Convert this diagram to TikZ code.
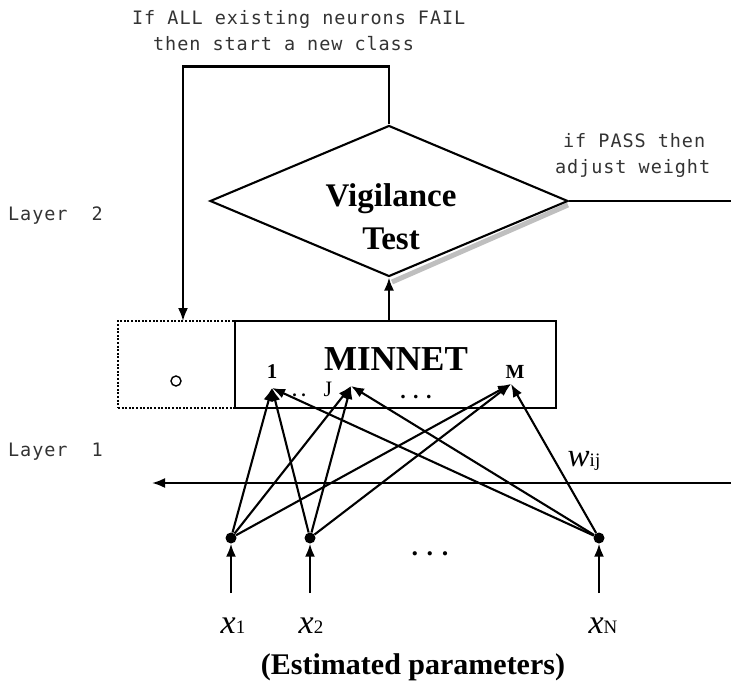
\documentclass[tikz,border=0pt]{standalone}
\usepackage{fontspec}
\setmainfont{Liberation Serif}
\newfontfamily\monof[LetterSpace=5]{DejaVu Sans Mono}
\usetikzlibrary{arrows.meta,shapes.geometric}
\begin{document}
\begin{tikzpicture}[x=1pt,y=-1pt,
  line/.style={line width=2.1pt},
  arr/.style={line, -{Latex[length=13pt,width=10pt]}},
  mono/.style={font=\monof\fontsize{18.5}{20}\selectfont, text=black!80, inner sep=0pt, anchor=base west},
  bigbold/.style={font=\bfseries\fontsize{33}{36}\selectfont, inner sep=0pt, anchor=base},
  dot/.style={circle, fill=black, minimum size=11pt, inner sep=0pt},
  xlab/.style={inner sep=0pt, anchor=base}]
\useasboundingbox (0,0) rectangle (731,688);

% texts at top
\node[mono] (t1a) at (132,24) {If ALL existing neurons FAIL};
\node[mono] (t1b) at (153,50) {then start a new class};
\node[mono] (t2a) at (563,147) {if PASS then};
\node[mono] (t2b) at (555,173) {adjust weight};
\node[mono] (l2) at (8,220) {Layer\ \ 2};
\node[mono] (l1) at (8,456) {Layer\ \ 1};

% diamond with shadow
\draw[line width=5pt, black!25] (568,205) -- (392,282);
\node[diamond, draw, line, fill=white, aspect=2.37, minimum width=358pt, minimum height=151pt, inner sep=0pt] (vt) at (389,201) {};
\node[bigbold] (vtxt) at (391,206) {Vigilance};
\node[bigbold] (ttxt) at (391,249) {Test};

% boxes
\node[draw, line, dash pattern=on 2pt off 1.6pt, minimum width=117pt, minimum height=87pt, inner sep=0pt] (nb) at (176.5,364.5) {};
\node[draw, line, fill=white, minimum width=321pt, minimum height=87pt, inner sep=0pt] (mn) at (395.5,364.5) {};
\node[inner sep=0pt, anchor=base, font=\bfseries\fontsize{35}{36}\selectfont] (mtxt) at (396,370) {MINNET};
\node[circle, draw, line width=1.4pt, minimum size=10pt, inner sep=0pt] (o) at (176,381) {};

% feedback
\coordinate (fb) at (183,321);
\draw[arr] (vt.north) -- ++(0,-58) -| (fb);
\draw[arr] (vt.south |- mn.north) -- (vt.south);
\coordinate (pr) at (731,201);
\draw[line] (vt.east) -- (pr);

% neuron labels
\node[inner sep=0pt, anchor=base, font=\bfseries\fontsize{21}{21}\selectfont] (n1l) at (272,378) {1};
\node[inner sep=0pt, anchor=base, font=\fontsize{22}{22}\selectfont] (nJl) at (328,396) {J};
\node[inner sep=0pt, anchor=base, font=\bfseries\fontsize{20}{20}\selectfont] (nMl) at (515,378) {M};
\node[inner sep=0pt, anchor=base, font=\bfseries\fontsize{18}{18}\selectfont] (dd1) at (299,396) {.\ .};
\node[inner sep=0pt, anchor=base, font=\bfseries\fontsize{22}{22}\selectfont] (dd2) at (416,398) {. . .};

\coordinate (t1) at (272,388);
\coordinate (tJ) at (351,386);
\coordinate (tM) at (511,384);

% inputs
\node[dot] (i1) at (231,538) {};
\node[dot] (i2) at (310,538) {};
\node[dot] (iN) at (599,538) {};
\coordinate (b1) at (231,593);
\coordinate (b2) at (310,593);
\coordinate (bN) at (599,593);
\foreach \i in {1,2,N} {
  \draw[arr] (b\i) -- (i\i);
  \foreach \t in {1,J,M} \draw[arr] (i\i) -- (t\t);
}
\node[inner sep=0pt, anchor=base, font=\bfseries\fontsize{26}{26}\selectfont] (dd3) at (430,555) {. . .};

% horizontal arrow
\coordinate (hr) at (731,483);
\coordinate (hl) at (152,483);
\draw[arr] (hr) -- (hl);
\node[xlab] (w) at (584,466) {{\fontsize{33}{33}\selectfont\itshape w}{\fontsize{19}{19}\selectfont ij}};

% input labels
\node[xlab] (x1) at (233,633) {{\fontsize{34}{34}\selectfont\itshape x}{\fontsize{19}{19}\selectfont 1}};
\node[xlab] (x2) at (311,633) {{\fontsize{34}{34}\selectfont\itshape x}{\fontsize{19}{19}\selectfont 2}};
\node[xlab] (xN) at (603,633) {{\fontsize{34}{34}\selectfont\itshape x}{\fontsize{19}{19}\selectfont N}};
\node[inner sep=0pt, anchor=base, font=\bfseries\fontsize{30}{30}\selectfont] (ep) at (413,674) {(Estimated parameters)};
\end{tikzpicture}
\end{document}
